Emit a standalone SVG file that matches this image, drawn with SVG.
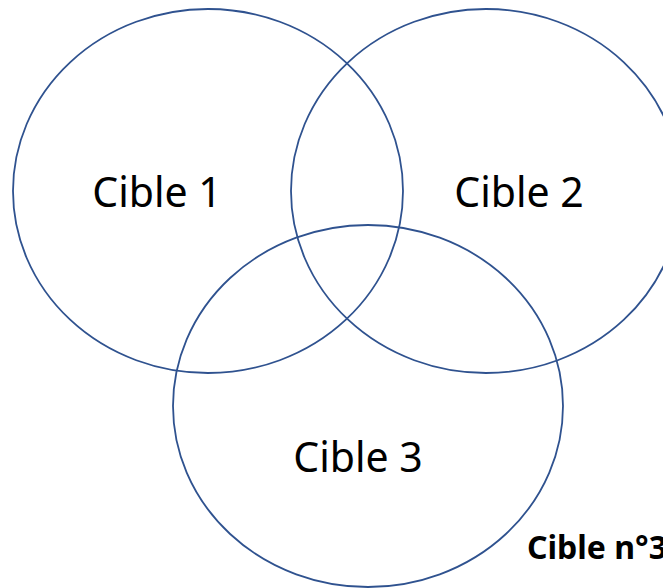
<svg xmlns="http://www.w3.org/2000/svg" width="663" height="588" viewBox="0 0 663 588">
  <style>
    .ring { fill: none; stroke: #2f528f; stroke-width: 1.8; }
    .lbl { font-family: "Noto Sans", "Open Sans", sans-serif; font-size: 41px; fill: #000; text-anchor: middle; }
    .note { font-family: "Noto Sans", "Open Sans", sans-serif; font-size: 32px; font-weight: bold; fill: #000; }
  </style>
  <rect width="663" height="588" fill="#fff"/>
  <g id="cible1">
    <ellipse class="ring" cx="208" cy="191" rx="195" ry="182"/>
    <text class="lbl" x="157" y="207">Cible 1</text>
  </g>
  <g id="cible2">
    <ellipse class="ring" cx="486" cy="191" rx="195" ry="182"/>
    <text class="lbl" x="519" y="207">Cible 2</text>
  </g>
  <g id="cible3">
    <ellipse class="ring" cx="368" cy="406" rx="195" ry="181"/>
    <text class="lbl" x="358" y="472">Cible 3</text>
  </g>
  <g id="connectors"/>
  <text class="note" x="527" y="559">Cible n°3</text>
</svg>
